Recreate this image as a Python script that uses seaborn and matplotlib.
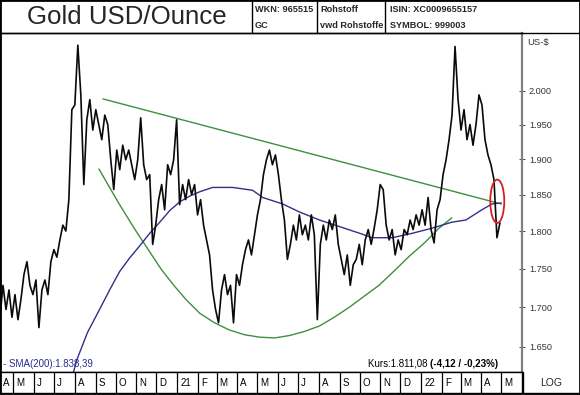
import numpy as np
import pandas as pd
import matplotlib
matplotlib.use("Agg")
import matplotlib.pyplot as plt
import matplotlib.dates as mdates
from matplotlib.patches import Ellipse, Rectangle
from matplotlib.lines import Line2D
from matplotlib.ticker import FixedLocator, FuncFormatter, NullLocator
from matplotlib.transforms import offset_copy
import seaborn as sns

# ---------------- data ----------------
price_start, price_end = "2020-04-11", "2022-04-29"
price = [1687, 1728, 1697, 1722, 1687, 1716, 1684, 1710, 1742, 1759, 1728, 1716,
         1735, 1674, 1722, 1735, 1716, 1759, 1775, 1765, 1788, 1808, 1800, 1843,
         1972, 1979, 2070, 1994, 1864, 1957, 1987, 1942, 1972, 1950, 1928, 1964,
         1950, 1899, 1857, 1913, 1885, 1920, 1899, 1913, 1892, 1871, 1899, 1960,
         1892, 1871, 1878, 1782, 1808, 1843, 1864, 1829, 1892, 1878, 1899, 1957,
         1836, 1864, 1843, 1871, 1850, 1864, 1822, 1843, 1808, 1788, 1768, 1722,
         1697, 1680, 1722, 1742, 1716, 1728, 1680, 1742, 1728, 1755, 1775, 1788,
         1768, 1795, 1822, 1843, 1878, 1899, 1913, 1892, 1906, 1878, 1843, 1815,
         1762, 1782, 1808, 1788, 1822, 1795, 1808, 1788, 1822, 1795, 1684, 1782,
         1808, 1788, 1815, 1802, 1822, 1782, 1762, 1742, 1768, 1728, 1755, 1762,
         1782, 1755, 1788, 1802, 1782, 1804, 1829, 1864, 1857, 1808, 1788, 1802,
         1768, 1788, 1775, 1802, 1795, 1815, 1802, 1822, 1808, 1829, 1808, 1846,
         1802, 1784, 1829, 1843, 1878, 1899, 1928, 1964, 2068, 1987, 1942, 1972,
         1928, 1950, 1920, 1950, 1994, 1979, 1928, 1906, 1892, 1871, 1791, 1811.08]

sma_dates = ["2020-07-30", "2020-08-04", "2020-08-20", "2020-09-07", "2020-09-22",
             "2020-10-07", "2020-10-22", "2020-11-06", "2020-11-21", "2020-12-06",
             "2020-12-21", "2021-01-05", "2021-01-20", "2021-02-04", "2021-02-23",
             "2021-03-25", "2021-04-24", "2021-05-09", "2021-06-08", "2021-07-03",
             "2021-08-02", "2021-09-01", "2021-10-01", "2021-10-20", "2021-11-19",
             "2021-12-19", "2022-01-18", "2022-02-16", "2022-03-09", "2022-04-02",
             "2022-04-17", "2022-05-01"]
sma_vals = [1619, 1634, 1668, 1697, 1722, 1746, 1764, 1780, 1797, 1812,
            1828, 1840, 1848, 1854, 1860, 1860, 1856, 1846, 1837, 1826,
            1815, 1806, 1797, 1791, 1791, 1797, 1804, 1812, 1815, 1829,
            1837, 1838.39]

trend_dates = ["2020-09-12", "2022-05-01"]
trend_vals = [1988, 1837]

cup_dates = ["2020-09-06", "2020-09-22", "2020-10-07", "2020-10-30", "2020-11-21",
             "2020-12-09", "2020-12-28", "2021-01-15", "2021-02-04", "2021-02-26",
             "2021-03-20", "2021-04-12", "2021-05-04", "2021-05-27", "2021-06-18",
             "2021-07-10", "2021-08-02", "2021-08-24", "2021-09-16", "2021-10-08",
             "2021-10-30", "2021-11-22", "2021-12-14", "2022-01-06", "2022-01-28",
             "2022-02-16"]
cup_vals = [1886, 1860, 1836, 1802, 1772, 1748, 1727, 1709, 1692, 1680,
            1671, 1665, 1662, 1661, 1664, 1669, 1676, 1687, 1700, 1714,
            1728, 1747, 1766, 1784, 1804, 1818]

y_ticks = [1650, 1700, 1750, 1800, 1850, 1900, 1950, 2000]
month_labels = ["A", "M", "J", "J", "A", "S", "O", "N", "D", "21", "F", "M", "A",
                "M", "J", "J", "A", "S", "O", "N", "D", "22", "F", "M", "A", "M"]
month_first = "2020-04-01"

x_min, x_max = pd.Timestamp("2020-04-11"), pd.Timestamp("2022-06-01")
y_min, y_max = 1619, 2089

# ---------------- figure ----------------
sns.set_style("white")
plt.rcParams["font.family"] = ["Liberation Sans", "DejaVu Sans"]

W, H = 580, 395
fig = plt.figure(figsize=(W / 100, H / 100), dpi=100)


def fx(px):
    return px / W


def fy(py):
    return 1 - py / H


ax = fig.add_axes([0, fy(372), fx(522), fy(33) - fy(372)])

df_price = pd.DataFrame({"date": pd.date_range(price_start, price_end, periods=len(price)),
                         "price": price})
df_sma = pd.DataFrame({"date": pd.to_datetime(sma_dates), "v": sma_vals})
df_trend = pd.DataFrame({"date": pd.to_datetime(trend_dates), "v": trend_vals})
df_cup = pd.DataFrame({"date": pd.to_datetime(cup_dates), "v": cup_vals})

sns.lineplot(data=df_cup, x="date", y="v", ax=ax, color="#3f8f3f", lw=1.0)
sns.lineplot(data=df_trend, x="date", y="v", ax=ax, color="#3f8f3f", lw=1.0)
sns.lineplot(data=df_sma, x="date", y="v", ax=ax, color="#30308a", lw=1.0)
sns.lineplot(data=df_price, x="date", y="price", ax=ax, color="#0a0a0a", lw=1.2)

ax.set_yscale("log")
ax.set_ylim(y_min, y_max)
ax.set_xlim(x_min, x_max)
ax.set_xlabel("")
ax.set_ylabel("")
ax.set_xticks([])
ax.yaxis.set_major_locator(FixedLocator(y_ticks))
ax.yaxis.set_minor_locator(NullLocator())
ax.yaxis.set_major_formatter(FuncFormatter(lambda v, p: f"{v:,.0f}".replace(",", ".")))
ax.yaxis.tick_right()
ax.tick_params(axis="y", direction="inout", length=4, width=0.8, pad=3,
               labelsize=6.6, colors="#555555", labelcolor="#333333")
for s in ["top", "left", "bottom"]:
    ax.spines[s].set_color("black")
    ax.spines[s].set_linewidth(1.0)
ax.spines["right"].set_color("#808080")
ax.spines["right"].set_linewidth(1.6)

# red ellipse around the latest price
last_date = mdates.date2num(pd.Timestamp("2022-04-25"))
ax.add_patch(Ellipse((last_date, 1841), width=21, height=60, fill=False,
                     edgecolor="#d42020", lw=1.3, zorder=5))

# in-chart labels
fig.text(fx(3), fy(364), "- SMA(200):1.838,39", color="#2a2a90", fontsize=7,
         va="center", ha="left")
t1 = fig.text(fx(368), fy(364), "Kurs:1.811,08 ", color="black", fontsize=7,
              va="center", ha="left")
ax.annotate("(-4,12 / -0,23%)", xy=(1, 0.5), xycoords=t1, va="center", ha="left",
            fontsize=7, fontweight="bold", color="black")
fig.text(fx(527), fy(42), "US-$", fontsize=6.8, color="#333333", va="center", ha="left")

# month band
axb = fig.add_axes([0, fy(393), fx(522), fy(372) - fy(393)])
axb.set_xlim(x_min, x_max)
axb.set_ylim(0, 1)
axb.set_xticks([])
axb.set_yticks([])
for s in axb.spines.values():
    s.set_color("black")
    s.set_linewidth(1.0)
month_starts = pd.date_range(month_first, periods=len(month_labels), freq="MS")
lbl_tr = offset_copy(axb.transData, fig=fig, x=3, y=0, units="dots")
for m, lab in zip(month_starts, month_labels):
    if m > x_min:
        axb.axvline(m, color="black", lw=0.9)
    xpos = max(m, x_min)
    axb.text(mdates.date2num(xpos), 0.5, lab, transform=lbl_tr, fontsize=7,
             va="center", ha="left", color="black")

# LOG cell
fig.add_artist(Line2D([fx(523), fx(523)], [fy(372), fy(393)], transform=fig.transFigure,
                      color="black", lw=1.0))
fig.add_artist(Line2D([fx(523), fx(580)], [fy(393), fy(393)], transform=fig.transFigure,
                      color="black", lw=1.0))
fig.text(fx(551), fy(383), "LOG", fontsize=7.5, ha="center", va="center")

# header
fig.add_artist(Line2D([0, 1], [fy(33), fy(33)], transform=fig.transFigure, color="black", lw=1.0))
for xp in [252, 317, 385]:
    fig.add_artist(Line2D([fx(xp), fx(xp)], [fy(0), fy(33)], transform=fig.transFigure,
                          color="black", lw=1.0))
fig.text(fx(127), fy(17), "Gold USD/Ounce", fontsize=18.6, ha="center", va="center")
hdr = dict(fontsize=6.6, fontweight="bold", ha="left", va="center")
fig.text(fx(255), fy(9), "WKN: 965515", **hdr)
fig.text(fx(255), fy(25), "GC", **hdr)
fig.text(fx(320), fy(9), "Rohstoff", **hdr)
fig.text(fx(320), fy(25), "vwd Rohstoffe", **hdr)
fig.text(fx(390), fy(9), "ISIN: XC0009655157", **hdr)
fig.text(fx(390), fy(25), "SYMBOL: 999003", **hdr)

# outer border
fig.add_artist(Rectangle((0, 0), 1, 1, transform=fig.transFigure, fill=False,
                         edgecolor="black", lw=2.0))

fig.savefig("out.png", dpi=100)
